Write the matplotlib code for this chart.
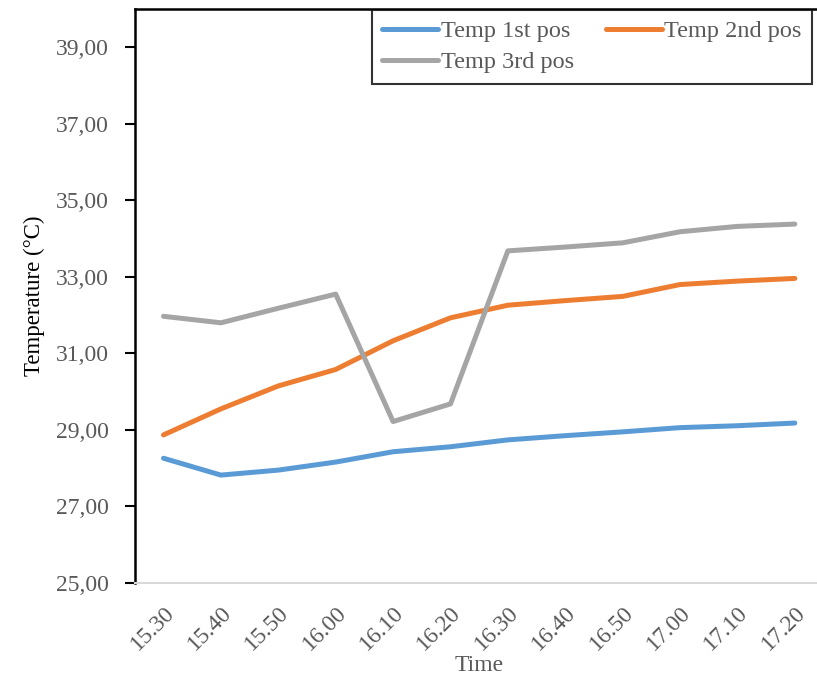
import matplotlib

matplotlib.use("Agg")
import matplotlib.pyplot as plt
from matplotlib.ticker import FixedLocator, FuncFormatter

# readings every 10 minutes, three probe positions
times = ["15.30", "15.40", "15.50", "16.00", "16.10", "16.20",
         "16.30", "16.40", "16.50", "17.00", "17.10", "17.20"]
temp_1st = [28.26, 27.82, 27.95, 28.16, 28.43, 28.56,
            28.74, 28.85, 28.95, 29.06, 29.11, 29.18]
temp_2nd = [28.87, 29.55, 30.15, 30.58, 31.33, 31.93,
            32.26, 32.38, 32.49, 32.80, 32.89, 32.96]
temp_3rd = [31.97, 31.80, 32.18, 32.55, 29.22, 29.68,
            33.68, 33.78, 33.89, 34.18, 34.32, 34.38]
y_ticks = [25, 27, 29, 31, 33, 35, 37, 39]

plt.rcParams["font.family"] = ["Liberation Serif", "DejaVu Serif"]
TXT = "#595959"

fig = plt.figure(figsize=(8.17, 6.76), dpi=100)
ax = fig.add_axes([0.165, 0.1376, 0.843, 0.849])

x = list(range(len(times)))
l1, = ax.plot(x, temp_1st, color="#5B9BD5", lw=3.6, solid_capstyle="round", label="Temp 1st pos")
l2, = ax.plot(x, temp_2nd, color="#ED7D31", lw=3.6, solid_capstyle="round", label="Temp 2nd pos")
l3, = ax.plot(x, temp_3rd, color="#A5A5A5", lw=3.6, solid_capstyle="round", label="Temp 3rd pos")

ax.set_xlim(-0.5, len(times) - 0.5)
ax.set_ylim(25, 40)
ax.yaxis.set_major_locator(FixedLocator(y_ticks))
ax.yaxis.set_major_formatter(FuncFormatter(lambda v, _: f"{v:.2f}".replace(".", ",")))
ax.set_xticks(x)
ax.set_xticklabels(times, rotation=45, ha="right", rotation_mode="anchor")

ax.tick_params(axis="y", length=7, width=1.5, pad=11.5, labelsize=17, labelcolor=TXT, color="black")
ax.tick_params(axis="x", length=0, pad=14, labelsize=17, labelcolor=TXT)

for side in ("left", "top", "right"):
    ax.spines[side].set_color("black")
    ax.spines[side].set_linewidth(1.8)
ax.spines["bottom"].set_color("#D9D9D9")
ax.spines["bottom"].set_linewidth(1.5)

ax.set_ylabel("Temperature (°C)", fontsize=16.5, color="black", labelpad=8)
ax.set_xlabel("Time", fontsize=17, color=TXT, labelpad=0)

# legend fills column-wise, so order handles to read row-wise
leg = ax.legend([l1, l3, l2], [l1.get_label(), l3.get_label(), l2.get_label()],
                loc="upper right", ncol=2, bbox_to_anchor=(812 / 817, 1 - 10 / 676),
                bbox_transform=fig.transFigure, borderaxespad=0, fontsize=17.5,
                frameon=True, fancybox=False, handlelength=2.3, handletextpad=0.12,
                columnspacing=1.3, borderpad=0.42, labelspacing=0.38)
leg.get_frame().set_edgecolor("black")
leg.get_frame().set_linewidth(1.5)
for t in leg.get_texts():
    t.set_color(TXT)

fig.savefig("out.png", dpi=100)
